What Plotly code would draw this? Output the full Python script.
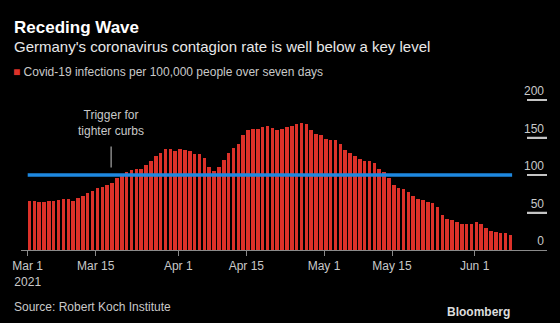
import pandas as pd
import plotly.graph_objects as go

# ---- data ----
start_date = "2021-03-01"
incidence = [
    65.8, 65.4, 63.5, 64.5, 65.4, 65.6, 66.1, 68.0, 67.5, 65.6,
    69.1, 72.4, 76.1, 79.0, 82.9, 83.7, 86.2, 90.0, 95.6, 99.9,
    103.9, 107.3, 108.1, 108.1, 113.3, 119.1, 124.9, 129.7, 134.4, 135.0,
    132.3, 134.2, 133.5, 131.4, 128.0, 128.4, 123.0, 110.1, 105.7, 110.4,
    120.6, 129.2, 136.4, 140.9, 153.2, 160.1, 160.7, 161.5, 163.5, 165.3,
    162.4, 160.1, 161.5, 164.0, 165.6, 167.5, 169.5, 168.3, 160.6, 154.9,
    153.4, 148.6, 146.9, 146.5, 141.4, 132.8, 129.1, 125.7, 121.5, 118.6,
    119.1, 115.4, 107.8, 103.6, 96.5, 87.3, 83.1, 82.0, 78.0, 72.0,
    67.6, 66.9, 64.5, 62.3, 58.0, 46.8, 41.0, 39.8, 37.5, 35.2,
    35.2, 35.1, 36.8, 34.1, 29.5, 25.5, 24.3, 23.0, 22.5, 20.5,
]
dates = pd.date_range(start_date, periods=len(incidence), freq="D")
threshold = 100
tick_dates = ["2021-03-01", "2021-03-15", "2021-04-01", "2021-04-15",
              "2021-05-01", "2021-05-15", "2021-06-01"]
tick_text = ["Mar 1<br>2021", "Mar 15", "Apr 1", "Apr 15", "May 1", "May 15", "Jun 1"]
y_ticks = [0, 50, 100, 150, 200]
series_name = "Covid-19 infections per 100,000 people over seven days"

# ---- layout constants ----
W, H = 560, 323
Y_MAX = 228
ML, MR, MB = 21, 13, 73
MT = 79
PW, PH = W - ML - MR, H - MT - MB
DAY_MS = 86400000
BAR_FRAC = 0.72

def px_x(px):
    return (px - ML) / PW

def px_y(py):
    return 1 + (MT - py) / PH

RED = "#dc3129"
BLUE = "#1e88e0"
GREY = "#8a8a8a"
TXT = "#c9c9c9"
FONT = "Liberation Sans"

fig = go.Figure()
fig.add_trace(go.Bar(
    x=dates, y=incidence, name=series_name,
    offset=0, width=BAR_FRAC * DAY_MS,
    marker=dict(color=RED, line=dict(width=0)),
    showlegend=False,
))
line_end = dates[-1] + pd.Timedelta(days=BAR_FRAC)
fig.add_trace(go.Scatter(
    x=[dates[0], line_end], y=[threshold, threshold],
    mode="lines", line=dict(color=BLUE, width=3.5),
    showlegend=False, hoverinfo="skip",
))

x0 = pd.Timestamp(start_date) - pd.Timedelta(days=1.38)
x1 = pd.Timestamp(start_date) + pd.Timedelta(days=106.9)

fig.update_layout(
    width=W, height=H,
    margin=dict(l=ML, r=MR, t=MT, b=MB, pad=0),
    paper_bgcolor="black", plot_bgcolor="black",
    font=dict(family=FONT, color=TXT, size=12),
    bargap=0,
    xaxis=dict(
        type="date", range=[x0, x1],
        tickvals=tick_dates, ticktext=tick_text,
        showgrid=False, zeroline=False,
        showline=True, linecolor=GREY, linewidth=1,
        ticks="outside", ticklen=5, tickcolor=GREY, tickwidth=1,
        tickfont=dict(size=12, color=TXT),
        fixedrange=True,
    ),
    yaxis=dict(
        range=[0, Y_MAX], side="right",
        tickvals=y_ticks,
        showgrid=False, zeroline=False, showline=False,
        ticks="inside", ticklen=20, tickcolor="#c4c4c4", tickwidth=1.5,
        ticklabelposition="inside top",
        tickfont=dict(size=12, color=TXT),
        fixedrange=True,
    ),
)

# short tick segments under the right-hand labels
for v in y_ticks[1:]:
    fig.add_shape(type="line", xref="paper", yref="y", x0=px_x(527), x1=px_x(547), y0=v, y1=v,
                  line=dict(color="#c4c4c4", width=1.5), layer="above")

anns = [
    dict(text="<b>Receding Wave</b>", x=px_x(12), y=px_y(27), xanchor="left", yanchor="middle",
         font=dict(size=17, color="white", family=FONT)),
    dict(text="Germany's coronavirus contagion rate is well below a key level", x=px_x(12), y=px_y(46),
         xanchor="left", yanchor="middle", font=dict(size=15, color="#e8e8e8", family=FONT)),
    dict(text=f"<span style='color:{RED}'>■</span> {series_name}", x=px_x(11), y=px_y(72),
         xanchor="left", yanchor="middle", font=dict(size=12, color=TXT, family=FONT)),
    dict(text="Source: Robert Koch Institute", x=px_x(12), y=px_y(307), xanchor="left", yanchor="middle",
         font=dict(size=12, color=TXT, family=FONT)),
    dict(text="<b>Bloomberg</b>", x=px_x(512), y=px_y(312), xanchor="right", yanchor="middle",
         font=dict(size=12, color="#dddddd", family=FONT)),
]
for a in anns:
    a.update(xref="paper", yref="paper", showarrow=False)
    fig.add_annotation(**a)

trig_x = pd.Timestamp("2021-03-18 04:00")
fig.add_annotation(text="Trigger for<br>tighter curbs", x=trig_x, y=px_y(123), xref="x", yref="paper",
                   showarrow=False, xanchor="center", yanchor="middle",
                   font=dict(size=12, color=TXT, family=FONT))
fig.add_shape(type="line", x0=trig_x, x1=trig_x, y0=110, y1=138, xref="x", yref="y",
              line=dict(color=TXT, width=1))

fig.write_html("out.html")
